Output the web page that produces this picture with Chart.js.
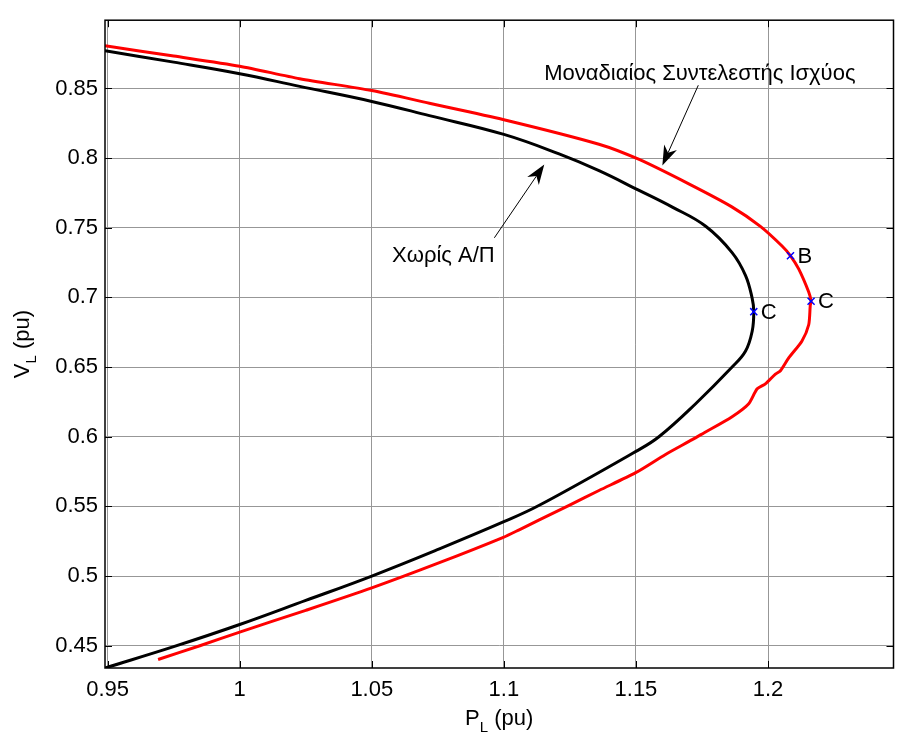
<!DOCTYPE html>
<html>
<head>
<meta charset="utf-8">
<title>PV curves</title>
<script src="https://cdn.jsdelivr.net/npm/chart.js@4.4.0/dist/chart.umd.min.js"></script>
<style>
  html, body { margin: 0; padding: 0; background: #fff; }
  #wrap { width: 900px; height: 737px; }
</style>
</head>
<body>
<div id="wrap"><canvas id="pv" width="900" height="737"></canvas></div>
<script>
// black curve: without compensation
const plainP = [0.949, 0.975, 1.0, 1.0227, 1.05, 1.0718, 1.1, 1.1209, 1.136, 1.151, 1.1636, 1.1764,
  1.1864, 1.1915, 1.194, 1.1946, 1.194, 1.1915, 1.1864, 1.1726, 1.1587, 1.15, 1.1134, 1.1,
  1.0756, 1.05, 1.025, 1.0, 0.975, 0.949];
const plainV = [0.877, 0.8689, 0.8606, 0.8515, 0.8407, 0.8305, 0.8170, 0.8030, 0.7910, 0.7770, 0.7650, 0.7511,
  0.7322, 0.7157, 0.6993, 0.6898, 0.6757, 0.6615, 0.6500, 0.6237, 0.6000, 0.5895, 0.5508, 0.5390,
  0.5195, 0.5000, 0.4825, 0.4652, 0.4493, 0.434];

// red curve: unity power factor
const unityP = [0.949, 0.975, 1.0, 1.0227, 1.05, 1.0718, 1.1, 1.136, 1.151, 1.170, 1.1863,
  1.1971, 1.2053, 1.2085, 1.2116, 1.2154, 1.2163, 1.216, 1.2154, 1.2128, 1.2079,
  1.2047, 1.2028, 1.199, 1.1959, 1.1927, 1.1864, 1.1757, 1.1713, 1.1612, 1.1499, 1.136, 1.1247,
  1.1134, 1.1058, 1.0998, 1.0756, 1.05, 1.025, 1.0, 0.9849, 0.9691];
const unityV = [0.8806, 0.8733, 0.866, 0.857, 0.8485, 0.8394, 0.8276, 0.8100, 0.7992, 0.7815, 0.7650,
  0.7510, 0.7369, 0.7299, 0.7205, 0.7039, 0.6973, 0.6945, 0.6804, 0.6686, 0.6568,
  0.6474, 0.6450, 0.6380, 0.6344, 0.6237, 0.6144, 0.6027, 0.5979, 0.5873, 0.5742, 0.5614, 0.5508,
  0.5403, 0.5332, 0.5278, 0.5096, 0.4915, 0.4754, 0.4598, 0.4500, 0.4401];

// marked points B / C
const markP = [1.2085, 1.2163, 1.1946];
const markV = [0.7299, 0.6973, 0.6898];
const markName = ['B', 'C', 'C'];

const xTicks = [0.95, 1.0, 1.05, 1.1, 1.15, 1.2];
const xTickLabels = ['0.95', '1', '1.05', '1.1', '1.15', '1.2'];
const yTicks = [0.45, 0.5, 0.55, 0.6, 0.65, 0.7, 0.75, 0.8, 0.85];
const yTickLabels = ['0.45', '0.5', '0.55', '0.6', '0.65', '0.7', '0.75', '0.8', '0.85'];

// captions with arrows (data coordinates)
const notes = [
  { text: 'Μοναδιαίος Συντελεστής Ισχύος', p: 1.1742, v: 0.856, tail: [1.1736, 0.8523], tip: [1.16, 0.7947] },
  { text: 'Χωρίς Α/Π', p: 1.0771, v: 0.7256, tail: [1.0964, 0.7428], tip: [1.1153, 0.7954] }
];

const FONT = 'Arial, "Liberation Sans", sans-serif';
const SIZE = 22;

function pairs(ps, vs) {
  return ps.map((p, i) => ({ x: p, y: vs[i] }));
}

function arrow(ctx, x0, y0, x1, y1) {
  const ang = Math.atan2(y1 - y0, x1 - x0);
  const len = 20, half = 7, notch = 6;
  const cx = x1 - Math.cos(ang) * (len - notch), cy = y1 - Math.sin(ang) * (len - notch);
  ctx.beginPath();
  ctx.moveTo(x0, y0);
  ctx.lineTo(cx, cy);
  ctx.lineWidth = 1;
  ctx.stroke();
  const bx = x1 - Math.cos(ang) * len, by = y1 - Math.sin(ang) * len;
  const nx = -Math.sin(ang) * half, ny = Math.cos(ang) * half;
  ctx.beginPath();
  ctx.moveTo(x1, y1);
  ctx.lineTo(bx + nx, by + ny);
  ctx.lineTo(cx, cy);
  ctx.lineTo(bx - nx, by - ny);
  ctx.closePath();
  ctx.fill();
}

// text with a subscript, e.g. P_L (pu)
function subText(ctx, main, sub, rest, x, y) {
  const big = SIZE + 'px ' + FONT, small = '15px ' + FONT;
  ctx.font = big;
  const w1 = ctx.measureText(main).width;
  const w3 = ctx.measureText(rest).width;
  ctx.font = small;
  const w2 = ctx.measureText(sub).width;
  let cx = x - (w1 + w2 + w3) / 2;
  ctx.textAlign = 'left';
  ctx.textBaseline = 'alphabetic';
  ctx.font = big;
  ctx.fillText(main, cx, y);
  cx += w1;
  ctx.font = small;
  ctx.fillText(sub, cx, y + 7);
  cx += w2;
  ctx.font = big;
  ctx.fillText(rest, cx, y);
}

const decorations = {
  id: 'decorations',
  afterDraw(chart) {
    const { ctx, chartArea: a, scales: { x, y } } = chart;
    ctx.save();
    ctx.strokeStyle = '#000';
    ctx.fillStyle = '#000';

    // inward tick marks on all four sides
    ctx.lineWidth = 1;
    ctx.beginPath();
    xTicks.forEach(t => {
      const px = Math.round(x.getPixelForValue(t)) + 0.5;
      ctx.moveTo(px, a.bottom); ctx.lineTo(px, a.bottom - 7);
      ctx.moveTo(px, a.top); ctx.lineTo(px, a.top + 7);
    });
    yTicks.forEach(t => {
      const py = Math.round(y.getPixelForValue(t)) + 0.5;
      ctx.moveTo(a.left, py); ctx.lineTo(a.left + 7, py);
      ctx.moveTo(a.right, py); ctx.lineTo(a.right - 7, py);
    });
    ctx.stroke();

    // axes box
    ctx.lineWidth = 1.5;
    ctx.strokeRect(a.left, a.top, a.right - a.left, a.bottom - a.top);

    // point names
    ctx.font = SIZE + 'px ' + FONT;
    ctx.textAlign = 'left';
    ctx.textBaseline = 'middle';
    markName.forEach((n, i) => {
      ctx.fillText(n, x.getPixelForValue(markP[i]) + 7, y.getPixelForValue(markV[i]) + 1);
    });

    // captions and arrows
    notes.forEach(n => {
      ctx.font = SIZE + 'px ' + FONT;
      ctx.textAlign = 'center';
      ctx.textBaseline = 'alphabetic';
      ctx.fillText(n.text, x.getPixelForValue(n.p), y.getPixelForValue(n.v));
      arrow(ctx,
        x.getPixelForValue(n.tail[0]), y.getPixelForValue(n.tail[1]),
        x.getPixelForValue(n.tip[0]), y.getPixelForValue(n.tip[1]));
    });

    // axis titles
    subText(ctx, 'P', 'L', ' (pu)', (a.left + a.right) / 2, a.bottom + 57);
    ctx.save();
    ctx.translate(29, (a.top + a.bottom) / 2);
    ctx.rotate(-Math.PI / 2);
    subText(ctx, 'V', 'L', ' (pu)', 0, 0);
    ctx.restore();

    ctx.restore();
  }
};

new Chart(document.getElementById('pv'), {
  type: 'scatter',
  data: {
    datasets: [
      {
        data: pairs(markP, markV),
        pointStyle: 'crossRot',
        pointRadius: 5,
        pointBorderColor: '#0000ff',
        pointBorderWidth: 1.5,
        showLine: false,
        order: 0
      },
      {
        data: pairs(unityP, unityV),
        borderColor: '#ff0000',
        borderWidth: 3,
        pointRadius: 0,
        showLine: true,
        tension: 0.25,
        order: 1
      },
      {
        data: pairs(plainP, plainV),
        borderColor: '#000000',
        borderWidth: 3,
        pointRadius: 0,
        showLine: true,
        tension: 0.4,
        order: 2
      }
    ]
  },
  options: {
    responsive: false,
    animation: false,
    layout: { padding: { top: 11, right: 5, left: 0, bottom: 0 } },
    plugins: { legend: { display: false }, tooltip: { enabled: false } },
    scales: {
      x: {
        type: 'linear',
        min: 0.949,
        max: 1.2475,
        afterBuildTicks: s => { s.ticks = xTicks.map(v => ({ value: v })); },
        afterFit: s => { s.height = 69; },
        ticks: {
          callback: (v, i) => xTickLabels[i],
          font: { size: SIZE, family: FONT },
          color: '#000',
          padding: 9,
          maxRotation: 0,
          autoSkip: false
        },
        grid: { color: '#979797', lineWidth: 1, drawTicks: false },
        border: { display: false }
      },
      y: {
        type: 'linear',
        min: 0.434,
        max: 0.899,
        afterBuildTicks: s => { s.ticks = yTicks.map(v => ({ value: v })); },
        afterFit: s => { s.width = 105; },
        ticks: {
          callback: (v, i) => yTickLabels[i],
          font: { size: SIZE, family: FONT },
          color: '#000',
          padding: 7,
          autoSkip: false
        },
        grid: { color: '#979797', lineWidth: 1, drawTicks: false },
        border: { display: false }
      }
    }
  },
  plugins: [decorations]
});
</script>
</body>
</html>
